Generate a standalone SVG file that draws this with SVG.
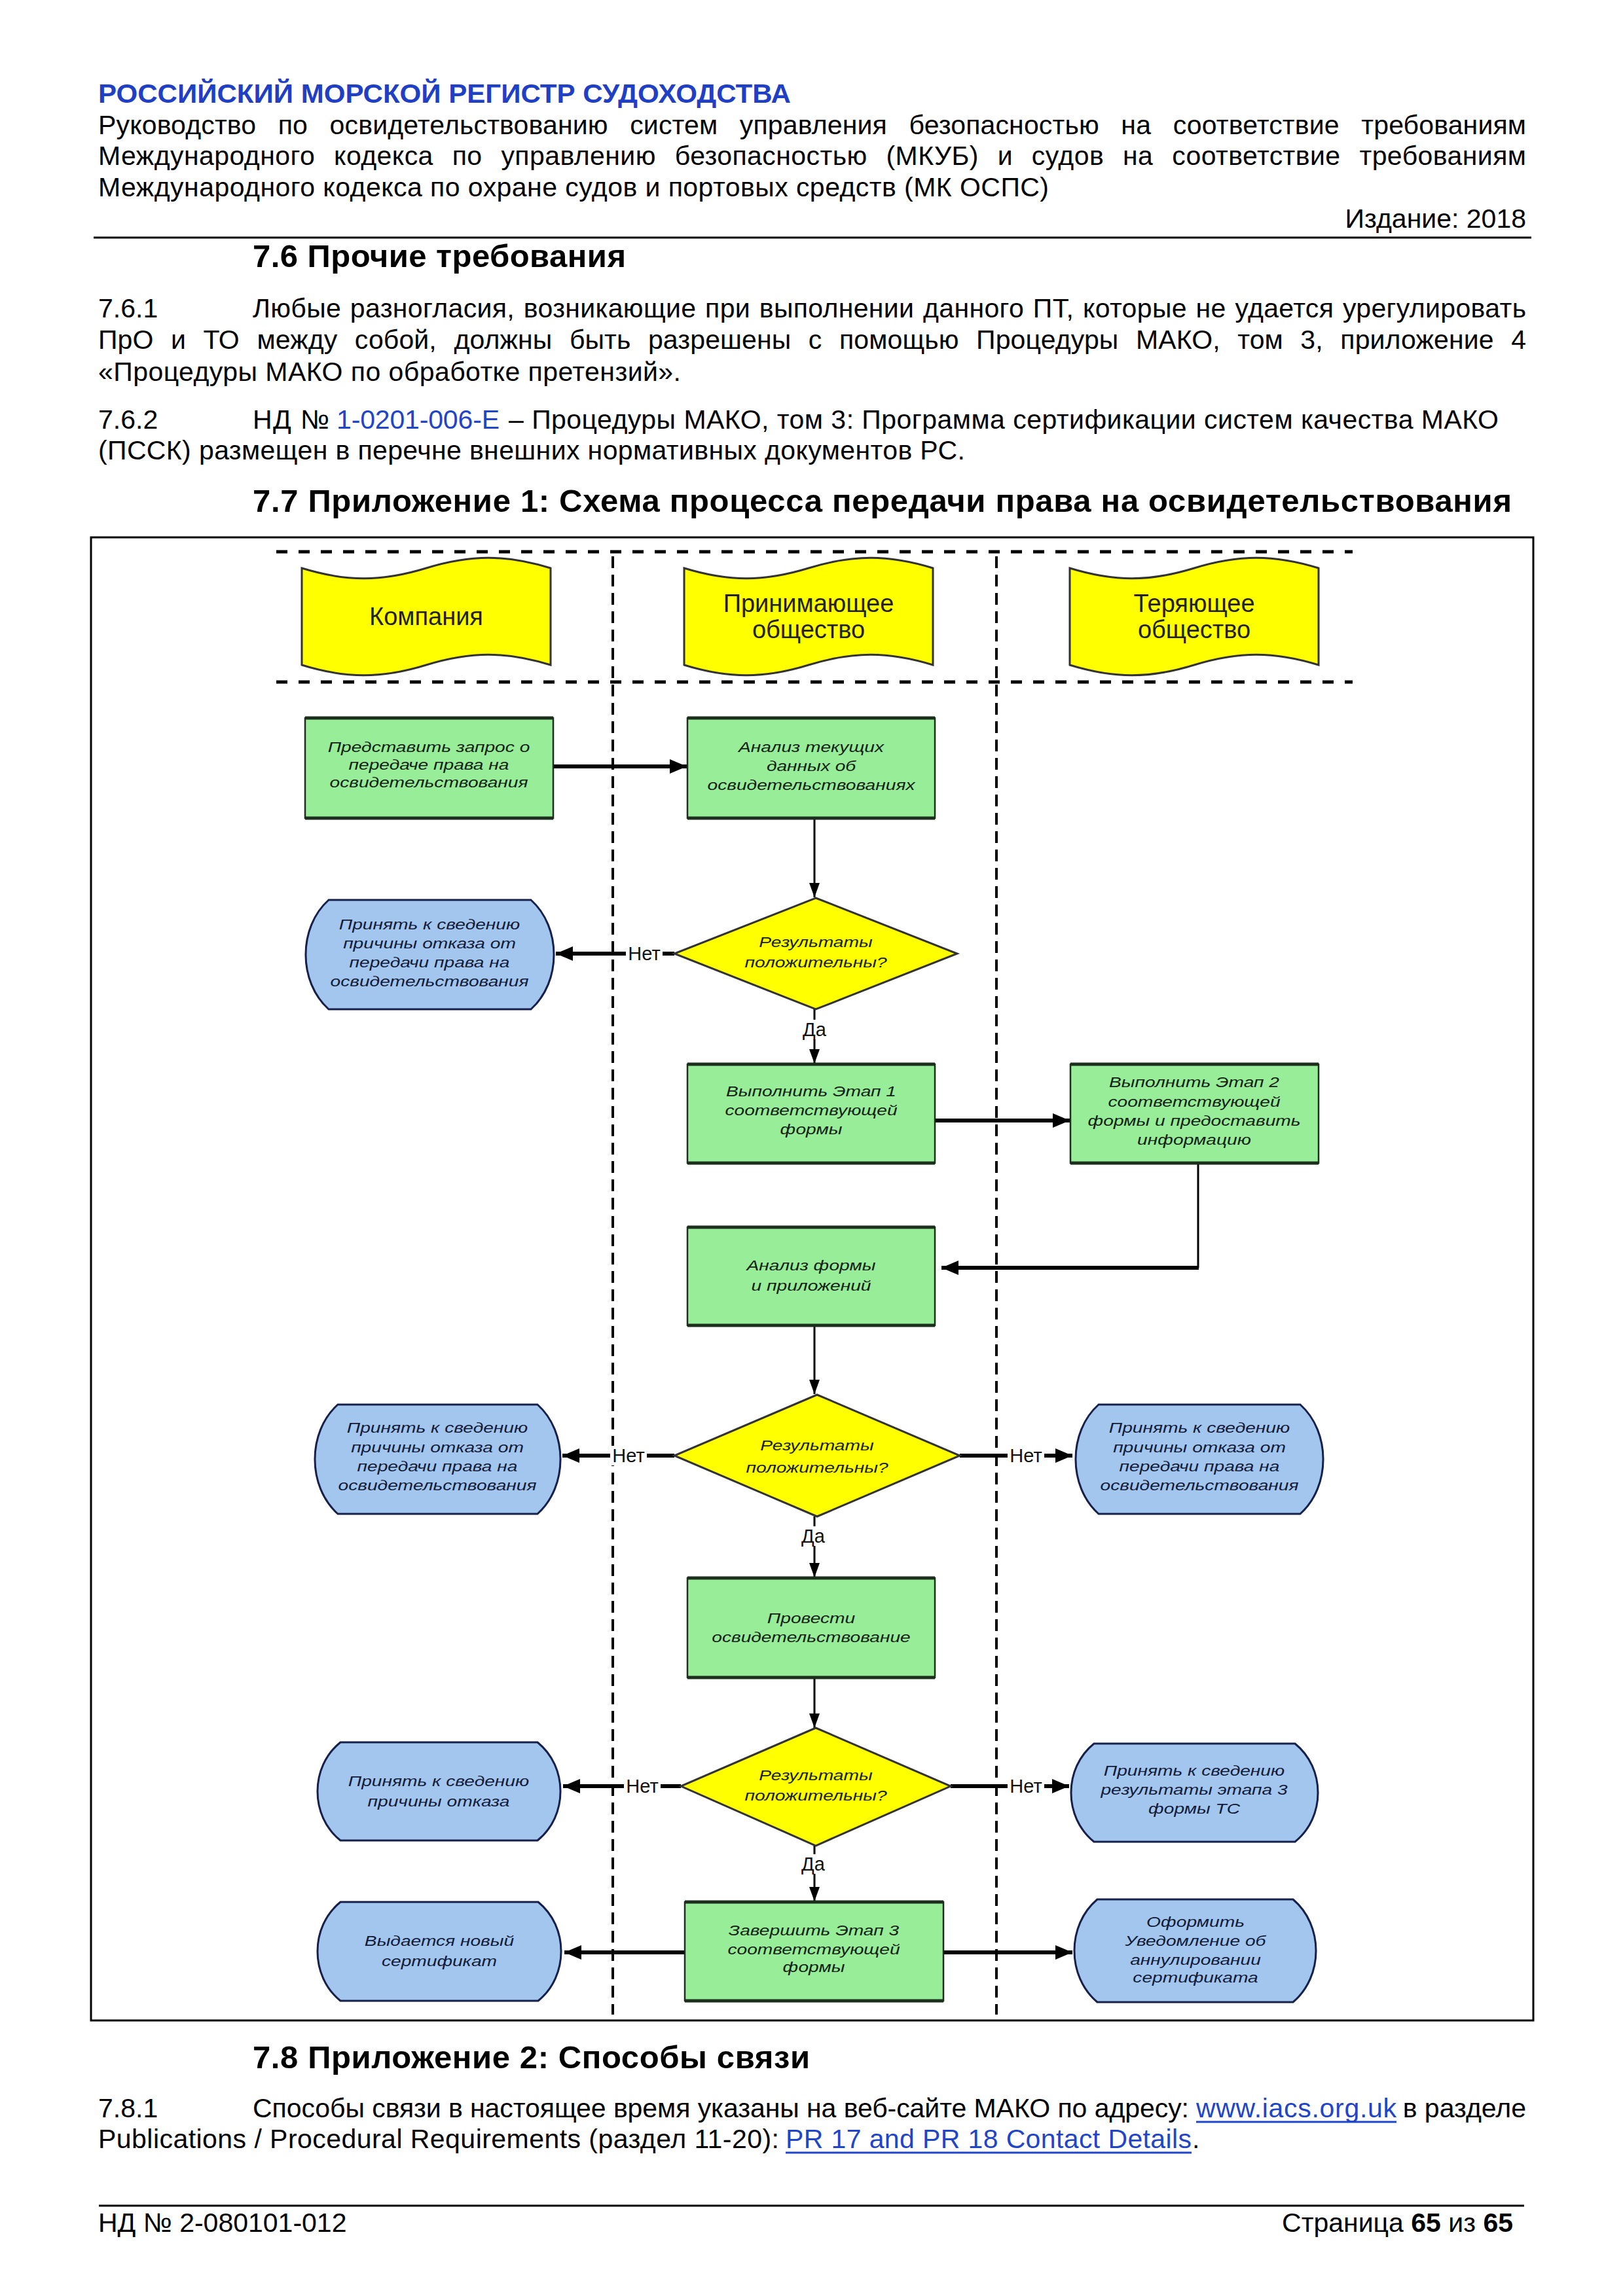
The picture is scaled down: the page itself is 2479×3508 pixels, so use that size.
<svg xmlns="http://www.w3.org/2000/svg" width="2479" height="3508" viewBox="0 0 2479 3508">
<style>
.t{font-family:"Liberation Sans",Arial,sans-serif;font-size:41px;fill:#000}
.h{font-family:"Liberation Sans",Arial,sans-serif;font-size:49px;font-weight:bold;fill:#000}
.blue{fill:#1f45c8}
.lnk{fill:#1f45c8}
.hdr{font-family:"Liberation Sans",Arial,sans-serif;font-size:38px;fill:#222;text-anchor:middle}
.nt{font-family:"Liberation Sans",Arial,sans-serif;font-style:italic;font-size:22px;text-anchor:middle;fill:#142014}
.nb{font-family:"Liberation Sans",Arial,sans-serif;font-style:italic;font-size:22px;text-anchor:middle;fill:#121a38}
.lbl{font-family:"Liberation Sans",Arial,sans-serif;font-size:29px;text-anchor:middle;fill:#111}
.lane{stroke:#000;stroke-width:4;stroke-dasharray:18 10;fill:none}
.hd{stroke:#000;stroke-width:5;stroke-dasharray:17 17;fill:none}
.thick{stroke:#000;stroke-width:6;fill:none}
.thin{stroke:#000;stroke-width:3;fill:none}
.g{fill:#98ee98;stroke:#1c2e1c;stroke-width:2.5}
.ge{stroke:#1c2e1c;stroke-width:5;fill:none}
.bl{fill:#a2c6ee;stroke:#16204a;stroke-width:3}
.y{fill:#ffff00;stroke:#333;stroke-width:3}
.wb{fill:#fff}
</style>
<defs>
<marker id="ah" markerUnits="userSpaceOnUse" markerWidth="26" markerHeight="22" refX="26" refY="11" orient="auto"><path d="M0,0 L26,11 L0,22 Z" fill="#000"/></marker>
<marker id="as" markerUnits="userSpaceOnUse" markerWidth="22" markerHeight="16" refX="22" refY="8" orient="auto"><path d="M0,0 L22,8 L0,16 Z" fill="#000"/></marker>
</defs>
<rect width="2479" height="3508" fill="#fff"/>

<!-- page header -->
<text x="150" y="157" font-family="Liberation Sans, Arial, sans-serif" font-size="40" font-weight="bold" fill="#1f3fc4" textLength="1058" lengthAdjust="spacingAndGlyphs">РОССИЙСКИЙ МОРСКОЙ РЕГИСТР СУДОХОДСТВА</text>
<text class="t" x="150" y="205" word-spacing="22" textLength="2181">Руководство по освидетельствованию систем управления безопасностью на соответствие требованиям</text>
<text class="t" x="150" y="252" word-spacing="17" textLength="2181">Международного кодекса по управлению безопасностью (МКУБ) и судов на соответствие требованиям</text>
<text class="t" x="150" y="300" textLength="1452">Международного кодекса по охране судов и портовых средств (МК ОСПС)</text>
<text class="t" x="2331" y="348" text-anchor="end">Издание: 2018</text>
<line x1="143" y1="363" x2="2339" y2="363" stroke="#000" stroke-width="3"/>

<text class="h" x="386" y="408" textLength="570">7.6 Прочие требования</text>
<text class="t" x="150" y="485">7.6.1</text>
<text class="t" x="386" y="485" word-spacing="2" textLength="1945">Любые разногласия, возникающие при выполнении данного ПТ, которые не удается урегулировать</text>
<text class="t" x="150" y="533" word-spacing="15" textLength="2181">ПрО и ТО между собой, должны быть разрешены с помощью Процедуры МАКО, том 3, приложение 4</text>
<text class="t" x="150" y="582" textLength="890">«Процедуры МАКО по обработке претензий».</text>
<text class="t" x="150" y="655">7.6.2</text>
<text class="t" x="386" y="655" textLength="117">НД №</text>
<text class="t blue" x="514" y="655" textLength="249">1-0201-006-E</text>
<text class="t" x="777" y="655" textLength="1512">– Процедуры МАКО, том 3: Программа сертификации систем качества МАКО</text>
<text class="t" x="150" y="702" textLength="1324">(ПССК) размещен в перечне внешних нормативных документов РС.</text>
<text class="h" x="386" y="782" textLength="1923">7.7 Приложение 1: Схема процесса передачи права на освидетельствования</text>

<!-- diagram frame -->
<rect x="139" y="821" width="2203" height="2266" fill="none" stroke="#000" stroke-width="3"/>

<!-- swimlane separators -->
<g id="lanes">
<line class="hd" x1="422" y1="843" x2="2066" y2="843"/>
<line class="hd" x1="422" y1="1042" x2="2066" y2="1042"/>
<line class="lane" x1="936" y1="850" x2="936" y2="3078"/>
<line class="lane" x1="1522" y1="850" x2="1522" y2="3078"/>
</g>

<!-- lane headers -->
<g id="lane-company">
<path class="y" d="M461,868 C529.4,889 582.6,889 651,868 C719.4,847 772.6,847 841,868 V1016 C772.6,995 719.4,995 651,1016 C582.6,1037 529.4,1037 461,1016 Z"/>
<text class="hdr" x="651" y="955">Компания</text>
</g>
<g id="lane-receiving">
<path class="y" d="M1045,868 C1113.4,889 1166.6,889 1235,868 C1303.4,847 1356.6,847 1425,868 V1016 C1356.6,995 1303.4,995 1235,1016 C1166.6,1037 1113.4,1037 1045,1016 Z"/>
<text class="hdr" x="1235" y="935">Принимающее</text>
<text class="hdr" x="1235" y="975">общество</text>
</g>
<g id="lane-losing">
<path class="y" d="M1634,868 C1702.4,889 1755.6,889 1824,868 C1892.4,847 1945.6,847 2014,868 V1016 C1945.6,995 1892.4,995 1824,1016 C1755.6,1037 1702.4,1037 1634,1016 Z"/>
<text class="hdr" x="1824" y="935">Теряющее</text>
<text class="hdr" x="1824" y="975">общество</text>
</g>

<!-- connectors -->
<g id="connectors">
<path class="thick" d="M846,1171 H1049" marker-end="url(#ah)"/>
<path class="thin" d="M1244,1250 V1371" marker-end="url(#as)"/>
<path class="thick" d="M1030,1457 H849" marker-end="url(#ah)"/>
<path class="thin" d="M1244,1542 V1625" marker-end="url(#as)"/>
<path class="thick" d="M1428,1712 H1634" marker-end="url(#ah)"/>
<path class="thin" d="M1830,1777 V1937"/>
<path class="thick" d="M1831,1937 H1438" marker-end="url(#ah)"/>
<path class="thin" d="M1244,2025 V2130" marker-end="url(#as)"/>
<path class="thick" d="M1030,2224 H859" marker-end="url(#ah)"/>
<path class="thick" d="M1466,2224 H1638" marker-end="url(#ah)"/>
<path class="thin" d="M1244,2317 V2410" marker-end="url(#as)"/>
<path class="thin" d="M1244,2563 V2640" marker-end="url(#as)"/>
<path class="thick" d="M1040,2729 H860" marker-end="url(#ah)"/>
<path class="thick" d="M1452,2729 H1633" marker-end="url(#ah)"/>
<path class="thin" d="M1244,2820 V2905" marker-end="url(#as)"/>
<path class="thick" d="M1046,2983 H862" marker-end="url(#ah)"/>
<path class="thick" d="M1441,2983 H1638" marker-end="url(#ah)"/>
<rect class="wb" x="956" y="1442" width="56" height="30"/><text class="lbl" x="984" y="1467">Нет</text>
<rect class="wb" x="1226" y="1558" width="38" height="30"/><text class="lbl" x="1244" y="1583">Да</text>
<rect class="wb" x="932" y="2209" width="56" height="30"/><text class="lbl" x="960" y="2234">Нет</text>
<rect class="wb" x="1539" y="2209" width="56" height="30"/><text class="lbl" x="1567" y="2234">Нет</text>
<rect class="wb" x="1224" y="2332" width="38" height="30"/><text class="lbl" x="1242" y="2357">Да</text>
<rect class="wb" x="953" y="2714" width="56" height="30"/><text class="lbl" x="981" y="2739">Нет</text>
<rect class="wb" x="1539" y="2714" width="56" height="30"/><text class="lbl" x="1567" y="2739">Нет</text>
<rect class="wb" x="1224" y="2833" width="38" height="30"/><text class="lbl" x="1242" y="2858">Да</text>
</g>

<!-- nodes -->
<g id="n-request">
<rect class="g" x="466" y="1097" width="379" height="153"/>
<path class="ge" d="M466,1097 H845 M466,1250 H845"/>
<g transform="translate(655,0) scale(1.28,1)"><text class="nt" x="0" y="1149">Представить запрос о</text><text class="nt" x="0" y="1176">передаче права на</text><text class="nt" x="0" y="1203">освидетельствования</text></g>
</g>
<g id="n-analysis">
<rect class="g" x="1050" y="1097" width="378" height="153"/>
<path class="ge" d="M1050,1097 H1428 M1050,1250 H1428"/>
<g transform="translate(1239,0) scale(1.28,1)"><text class="nt" x="0" y="1149">Анализ текущих</text><text class="nt" x="0" y="1178">данных об</text><text class="nt" x="0" y="1207">освидетельствованиях</text></g>
</g>
<g id="n-decision1">
<path class="y" d="M1246,1372 L1462,1457 L1246,1542 L1030,1457 Z"/>
<g transform="translate(1246,0) scale(1.28,1)"><text class="nt" x="0" y="1447">Результаты</text><text class="nt" x="0" y="1478">положительны?</text></g>
</g>
<g id="n-refuse1">
<path class="bl" d="M502,1375 H811 C857.7,1416.8 857.7,1500.2 811,1542 H502 C455.3,1500.2 455.3,1416.8 502,1375 Z"/>
<g transform="translate(656,0) scale(1.28,1)"><text class="nb" x="0" y="1420">Принять к сведению</text><text class="nb" x="0" y="1449">причины отказа от</text><text class="nb" x="0" y="1478">передачи права на</text><text class="nb" x="0" y="1507">освидетельствования</text></g>
</g>
<g id="n-stage1">
<rect class="g" x="1050" y="1626" width="378" height="151"/>
<path class="ge" d="M1050,1626 H1428 M1050,1777 H1428"/>
<g transform="translate(1239,0) scale(1.28,1)"><text class="nt" x="0" y="1675">Выполнить Этап 1</text><text class="nt" x="0" y="1704">соответствующей</text><text class="nt" x="0" y="1733">формы</text></g>
</g>
<g id="n-stage2">
<rect class="g" x="1635" y="1626" width="379" height="151"/>
<path class="ge" d="M1635,1626 H2014 M1635,1777 H2014"/>
<g transform="translate(1824,0) scale(1.28,1)"><text class="nt" x="0" y="1661">Выполнить Этап 2</text><text class="nt" x="0" y="1691">соответствующей</text><text class="nt" x="0" y="1720">формы и предоставить</text><text class="nt" x="0" y="1749">информацию</text></g>
</g>
<g id="n-formanalysis">
<rect class="g" x="1050" y="1875" width="378" height="150"/>
<path class="ge" d="M1050,1875 H1428 M1050,2025 H1428"/>
<g transform="translate(1239,0) scale(1.28,1)"><text class="nt" x="0" y="1941">Анализ формы</text><text class="nt" x="0" y="1972">и приложений</text></g>
</g>
<g id="n-decision2">
<path class="y" d="M1248,2131 L1466,2224 L1248,2317 L1030,2224 Z"/>
<g transform="translate(1248,0) scale(1.28,1)"><text class="nt" x="0" y="2216">Результаты</text><text class="nt" x="0" y="2250">положительны?</text></g>
</g>
<g id="n-refuse2">
<path class="bl" d="M516,2146 H821 C867.7,2187.8 867.7,2271.2 821,2313 H516 C469.3,2271.2 469.3,2187.8 516,2146 Z"/>
<g transform="translate(668,0) scale(1.28,1)"><text class="nb" x="0" y="2189">Принять к сведению</text><text class="nb" x="0" y="2219">причины отказа от</text><text class="nb" x="0" y="2248">передачи права на</text><text class="nb" x="0" y="2277">освидетельствования</text></g>
</g>
<g id="n-refuse3">
<path class="bl" d="M1678,2146 H1986 C2032.7,2187.8 2032.7,2271.2 1986,2313 H1678 C1631.3,2271.2 1631.3,2187.8 1678,2146 Z"/>
<g transform="translate(1832,0) scale(1.28,1)"><text class="nb" x="0" y="2189">Принять к сведению</text><text class="nb" x="0" y="2219">причины отказа от</text><text class="nb" x="0" y="2248">передачи права на</text><text class="nb" x="0" y="2277">освидетельствования</text></g>
</g>
<g id="n-survey">
<rect class="g" x="1050" y="2411" width="378" height="152"/>
<path class="ge" d="M1050,2411 H1428 M1050,2563 H1428"/>
<g transform="translate(1239,0) scale(1.28,1)"><text class="nt" x="0" y="2480">Провести</text><text class="nt" x="0" y="2509">освидетельствование</text></g>
</g>
<g id="n-decision3">
<path class="y" d="M1246,2640 L1452,2729 L1246,2820 L1040,2729 Z"/>
<g transform="translate(1246,0) scale(1.28,1)"><text class="nt" x="0" y="2720">Результаты</text><text class="nt" x="0" y="2751">положительны?</text></g>
</g>
<g id="n-refuse4">
<path class="bl" d="M520,2662 H821 C867.7,2699.5 867.7,2774.5 821,2812 H520 C473.3,2774.5 473.3,2699.5 520,2662 Z"/>
<g transform="translate(670,0) scale(1.28,1)"><text class="nb" x="0" y="2729">Принять к сведению</text><text class="nb" x="0" y="2760">причины отказа</text></g>
</g>
<g id="n-stage3note">
<path class="bl" d="M1671,2664 H1978 C2024.7,2701.5 2024.7,2776.5 1978,2814 H1671 C1624.3,2776.5 1624.3,2701.5 1671,2664 Z"/>
<g transform="translate(1824,0) scale(1.28,1)"><text class="nb" x="0" y="2713">Принять к сведению</text><text class="nb" x="0" y="2742">результаты этапа 3</text><text class="nb" x="0" y="2771">формы ТС</text></g>
</g>
<g id="n-stage3">
<rect class="g" x="1046" y="2906" width="395" height="151"/>
<path class="ge" d="M1046,2906 H1441 M1046,3057 H1441"/>
<g transform="translate(1243,0) scale(1.28,1)"><text class="nt" x="0" y="2957">Завершить Этап 3</text><text class="nt" x="0" y="2986">соответствующей</text><text class="nt" x="0" y="3013">формы</text></g>
</g>
<g id="n-newcert">
<path class="bl" d="M520,2906 H822 C868.7,2943.8 868.7,3019.3 822,3057 H520 C473.3,3019.3 473.3,2943.8 520,2906 Z"/>
<g transform="translate(671,0) scale(1.28,1)"><text class="nb" x="0" y="2973">Выдается новый</text><text class="nb" x="0" y="3004">сертификат</text></g>
</g>
<g id="n-cancel">
<path class="bl" d="M1676,2902 H1975 C2021.7,2941.3 2021.7,3019.8 1975,3059 H1676 C1629.3,3019.8 1629.3,2941.3 1676,2902 Z"/>
<g transform="translate(1826,0) scale(1.28,1)"><text class="nb" x="0" y="2944">Оформить</text><text class="nb" x="0" y="2973">Уведомление об</text><text class="nb" x="0" y="3002">аннулировании</text><text class="nb" x="0" y="3029">сертификата</text></g>
</g>

<!-- section 7.8 -->
<text class="h" x="386" y="3160" textLength="851">7.8 Приложение 2: Способы связи</text>
<text class="t" x="150" y="3235">7.8.1</text>
<text class="t" x="386" y="3235" textLength="1430">Способы связи в настоящее время указаны на веб-сайте МАКО по адресу:</text>
<text class="t lnk" x="1827" y="3235" textLength="306">www.iacs.org.uk</text>
<line x1="1827" y1="3242" x2="2133" y2="3242" stroke="#1f45c8" stroke-width="3"/>
<text class="t" x="2331" y="3235" text-anchor="end">в разделе</text>
<text class="t" x="150" y="3282" textLength="1040">Publications / Procedural Requirements (раздел 11-20):</text>
<text class="t lnk" x="1200" y="3282" textLength="620">PR 17 and PR 18 Contact Details</text>
<line x1="1200" y1="3289" x2="1820" y2="3289" stroke="#1f45c8" stroke-width="3"/>
<text class="t" x="1821" y="3282">.</text>

<!-- footer -->
<line x1="151" y1="3370" x2="2328" y2="3370" stroke="#000" stroke-width="3"/>
<text class="t" x="150" y="3410">НД № 2-080101-012</text>
<text class="t" x="2311" y="3410" text-anchor="end">Страница <tspan font-weight="bold">65</tspan> из <tspan font-weight="bold">65</tspan></text>
</svg>
